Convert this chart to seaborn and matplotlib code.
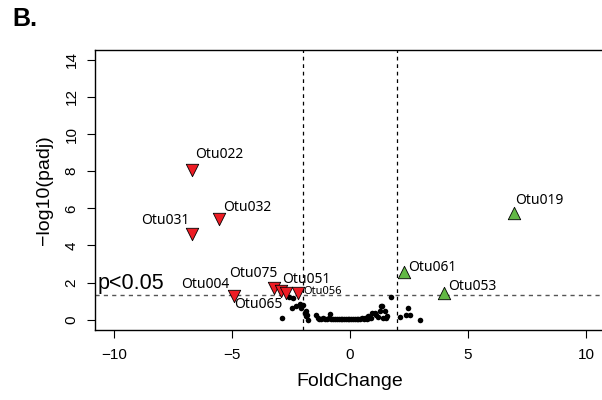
import matplotlib
matplotlib.use("Agg")
import matplotlib.pyplot as plt
import seaborn as sns
import pandas as pd
import numpy as np

# ---- data ----
black_x = [-2.86, -2.58, -2.44, -2.41, -2.27, -2.10, -2.06, -1.99, -1.92, -1.85, -1.85,
           -1.82, -1.76, -1.42, -1.37, -1.30, -1.22, -1.15, -1.05, -0.98, -0.90, -0.86,
           -0.80, -0.72, -0.65, -0.55, -0.48, -0.40, -0.32, -0.25, -0.18, -0.10, -0.03,
           0.05, 0.12, 0.20, 0.28, 0.35, 0.42, 0.50, 0.58, 0.65, 0.72, 0.76, 0.82, 0.90,
           0.95, 1.05, 1.12, 1.20, 1.26, 1.33, 1.37, 1.41, 1.47, 1.54, 1.57, 1.75, 2.11,
           2.39, 2.46, 2.53, 2.98]
black_y = [0.09, 1.22, 0.63, 1.15, 0.72, 0.86, 0.63, 0.81, 0.36, 0.45, 0.18,
           0.27, 0.00, 0.27, 0.10, 0.05, 0.03, 0.06, 0.02, 0.04, 0.08, 0.32,
           0.03, 0.05, 0.02, 0.04, 0.03, 0.05, 0.02, 0.03, 0.04, 0.02, 0.03,
           0.02, 0.04, 0.03, 0.05, 0.02, 0.04, 0.06, 0.03, 0.07, 0.05, 0.21, 0.08, 0.10,
           0.36, 0.36, 0.27, 0.12, 0.45, 0.75, 0.72, 0.09, 0.45, 0.09, 0.18, 1.20, 0.15,
           0.27, 0.63, 0.27, -0.02]

red_names = ["Otu022", "Otu031", "Otu032", "Otu004", "Otu075", "Otu051", "Otu065", "Otu056"]
red_x = [-6.69, -6.69, -5.53, -4.92, -3.21, -2.94, -2.73, -2.20]
red_y = [8.08, 4.64, 5.44, 1.29, 1.72, 1.56, 1.45, 1.44]

green_names = ["Otu019", "Otu061", "Otu053"]
green_x = [6.95, 2.27, 3.96]
green_y = [5.76, 2.54, 1.46]

x_ticks = [-10, -5, 0, 5, 10]
y_ticks = [0, 2, 4, 6, 8, 10, 12, 14]
fc_cut = 2
p_cut = 0.05

# label placement (pixels offset, alignment, fontsize)
red_label_style = [(3, 15, "left", 10), (-3, 13, "right", 10), (4, 11, "left", 10),
                   (-4, 11, "right", 10), (3.5, 14, "right", 10), (2, 11, "left", 10),
                   (-3, -12, "right", 10), (5, 1, "left", 8)]
green_label_style = [(1, 12, "left", 10), (5, 4.5, "left", 10), (5, 6, "left", 10)]

sns.set_style("ticks")
plt.rcParams["font.family"] = ["Liberation Sans", "DejaVu Sans"]
plt.rcParams["text.color"] = "black"
plt.rcParams["axes.labelcolor"] = "black"
plt.rcParams["xtick.color"] = "black"
plt.rcParams["ytick.color"] = "black"
plt.rcParams["axes.edgecolor"] = "black"

fig = plt.figure(figsize=(6.02, 4.00), dpi=100)
ax = fig.add_axes([95 / 602, 70 / 400, 510 / 602, 280.5 / 400])

df_b = pd.DataFrame({"x": black_x, "y": black_y})
df_r = pd.DataFrame({"x": red_x, "y": red_y, "name": red_names})
df_g = pd.DataFrame({"x": green_x, "y": green_y, "name": green_names})

sns.scatterplot(data=df_b, x="x", y="y", ax=ax, color="black", s=16, linewidth=0, zorder=3)
ax.axvline(-fc_cut, color="black", lw=0.9, ls=(0, (3, 3)), zorder=2)
ax.axvline(fc_cut, color="black", lw=0.9, ls=(0, (3, 3)), zorder=2)
ax.axhline(-np.log10(p_cut), color="#555555", lw=1.0, ls=(0, (3, 3)), zorder=2)
sns.scatterplot(data=df_r, x="x", y="y", ax=ax, marker="v", color="#ED1C24", s=80,
                edgecolor="black", linewidth=0.6, zorder=4)
sns.scatterplot(data=df_g, x="x", y="y", ax=ax, marker="^", color="#62B845", s=80,
                edgecolor="black", linewidth=0.6, zorder=4)

for nm, xx, yy, (dx, dy, ha, fs) in zip(red_names, red_x, red_y, red_label_style):
    ax.annotate(nm, (xx, yy), xytext=(dx, dy), textcoords="offset pixels", ha=ha,
                va="center", fontsize=fs, family=["Noto Sans", "DejaVu Sans"],
                color="black", zorder=5)
for nm, xx, yy, (dx, dy, ha, fs) in zip(green_names, green_x, green_y, green_label_style):
    ax.annotate(nm, (xx, yy), xytext=(dx, dy), textcoords="offset pixels", ha=ha,
                va="center", fontsize=fs, family=["Noto Sans", "DejaVu Sans"],
                color="black", zorder=5)

ax.text(-10.68, 1.65, "p<0.05", ha="left", va="baseline", fontsize=15.5, color="black", zorder=5)

ax.set_xlim(-10.8, 10.8)
ax.set_ylim(-0.56, 14.56)
ax.set_xticks(x_ticks)
ax.set_yticks(y_ticks)
ax.set_xticklabels([str(v).replace("-", "\u2212") for v in x_ticks])
ax.set_yticklabels([str(v) for v in y_ticks], rotation=90, va="center")
ax.tick_params(axis="both", length=5.8, width=0.8, labelsize=11, color="black",
               labelcolor="black")
ax.tick_params(axis="x", pad=7)
ax.tick_params(axis="y", pad=6)
for sp in ax.spines.values():
    sp.set_visible(True)
    sp.set_color("black")
    sp.set_linewidth(1.0)

ax.set_xlabel("FoldChange", fontsize=14, labelpad=8, color="black")
ax.set_ylabel("\u2212log10(padj)", fontsize=14, labelpad=8, color="black")

fig.text(12 / 602, 1 - 19 / 400, "B.", fontsize=18, fontweight="bold", ha="left",
         va="center", color="black")

fig.savefig("out.png", dpi=100)
